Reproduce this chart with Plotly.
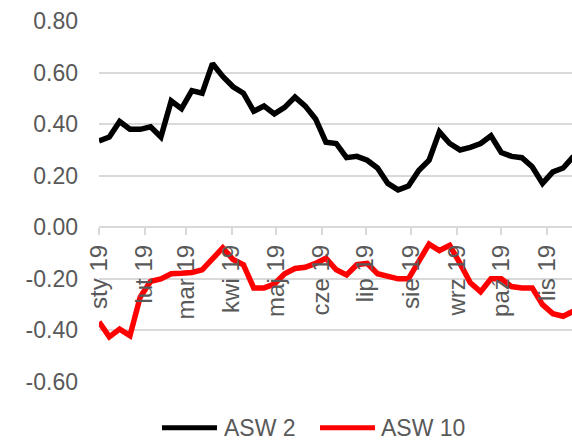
import pandas as pd
import plotly.graph_objects as go

# Weekly asset-swap spreads, 2019
week_start = "2019-01-01"
n_weeks = 47
asw2 = [0.335, 0.35, 0.41, 0.38, 0.38, 0.39, 0.35, 0.49, 0.46, 0.53,
        0.52, 0.635, 0.585, 0.545, 0.52, 0.45, 0.47, 0.44, 0.465, 0.505,
        0.47, 0.42, 0.33, 0.325, 0.27, 0.275, 0.26, 0.23, 0.17, 0.145,
        0.16, 0.22, 0.26, 0.37, 0.325, 0.30, 0.31, 0.325, 0.355, 0.29,
        0.275, 0.27, 0.235, 0.17, 0.215, 0.23, 0.275]
asw10 = [-0.367, -0.425, -0.395, -0.42, -0.27, -0.21, -0.20, -0.18, -0.178, -0.175,
         -0.165, -0.125, -0.08, -0.125, -0.145, -0.235, -0.235, -0.22, -0.18, -0.16,
         -0.155, -0.14, -0.12, -0.165, -0.185, -0.145, -0.14, -0.18, -0.19, -0.2,
         -0.2, -0.13, -0.065, -0.09, -0.07, -0.14, -0.215, -0.25, -0.2, -0.2,
         -0.23, -0.235, -0.235, -0.30, -0.335, -0.345, -0.325]

series_names = ["ASW 2", "ASW 10"]
series_colors = ["#000000", "#ff0000"]

month_ticks = ["2019-01-01", "2019-02-01", "2019-03-01", "2019-04-01", "2019-05-01",
               "2019-06-01", "2019-07-01", "2019-08-01", "2019-09-01", "2019-10-01",
               "2019-11-01"]
month_labels = ["sty 19", "lut 19", "mar 19", "kwi 19", "maj 19", "cze 19",
                "lip 19", "sie 19", "wrz 19", "paź 19", "lis 19"]

y_ticks = [0.8, 0.6, 0.4, 0.2, 0.0, -0.2, -0.4, -0.6]
y_labels = ["0.80", "0.60", "0.40", "0.20", "0.00", "-0.20", "-0.40", "-0.60"]

dates = pd.date_range(week_start, periods=n_weeks, freq="7D")

FONT = "Liberation Sans, Arial, sans-serif"
TEXT = "#595959"
GRID = "#d9d9d9"

fig = go.Figure()
for name, vals, col in zip(series_names, [asw2, asw10], series_colors):
    fig.add_trace(go.Scatter(x=dates, y=vals, name=name, mode="lines",
                             line=dict(color=col, width=5.5), showlegend=False))

y_min, y_max = -0.6, 0.8
fig.update_layout(
    width=572, height=440,
    margin=dict(l=99, r=0, t=21, b=58),
    paper_bgcolor="white", plot_bgcolor="white",
    font=dict(family=FONT, color=TEXT, size=23),
    xaxis=dict(
        range=["2019-01-01", "2019-11-18"],
        tickvals=month_ticks, ticktext=month_labels, tickangle=-90,
        anchor="free", position=(0 - y_min) / (y_max - y_min),
        showline=True, linecolor=GRID, linewidth=2,
        ticks="outside", ticklen=7, tickcolor=GRID, tickwidth=1.5,
        showgrid=False, zeroline=False,
        tickfont=dict(size=24, color=TEXT, family=FONT),
    ),
    yaxis=dict(
        range=[y_min, y_max],
        tickvals=y_ticks, ticktext=y_labels,
        showgrid=True, gridcolor=GRID, gridwidth=1.5,
        zeroline=False, showline=False, ticks="",
        ticklabelstandoff=20,
        tickfont=dict(size=23, color=TEXT, family=FONT),
    ),
)

# Legend drawn below the plot area
legend_y = -0.127
legend_items = [(0.1332, 0.2495, 0.2600), (0.4672, 0.5835, 0.5920)]
for (x0, x1, xt), name, col in zip(legend_items, series_names, series_colors):
    fig.add_shape(type="line", xref="paper", yref="paper", x0=x0, x1=x1,
                  y0=legend_y, y1=legend_y, line=dict(color=col, width=5))
    fig.add_annotation(xref="paper", yref="paper", x=xt, y=legend_y,
                       text=name, showarrow=False, xanchor="left", yanchor="middle",
                       font=dict(size=23, color=TEXT, family=FONT))

fig.write_html("out.html")
